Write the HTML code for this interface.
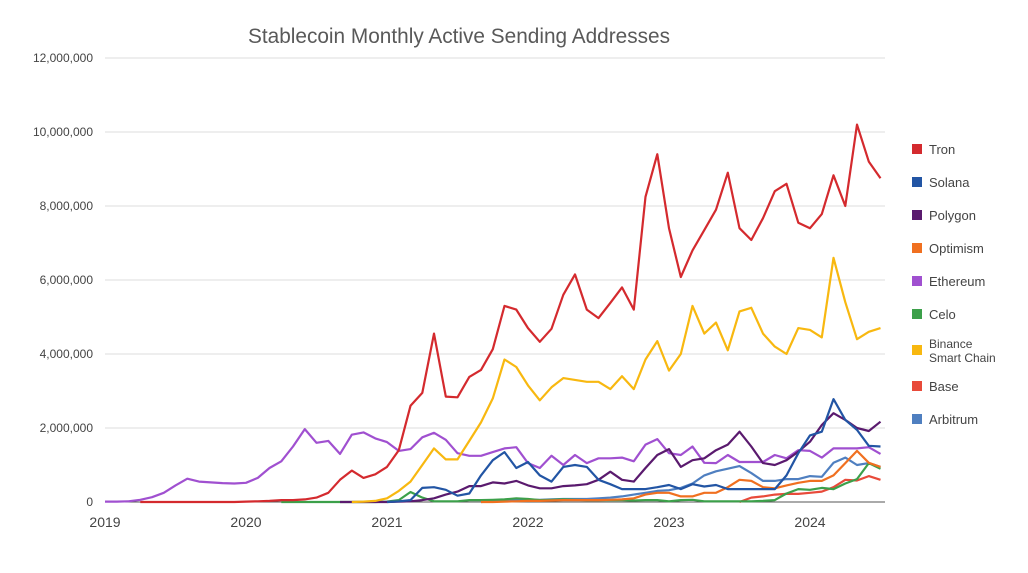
<!DOCTYPE html>
<html><head><meta charset="utf-8"><style>
body{margin:0;background:#fff;font-family:"Liberation Sans",sans-serif;}
svg text{font-family:"Liberation Sans",sans-serif;}
</style></head><body>
<svg id="chart" width="1028" height="568" viewBox="0 0 1028 568" xmlns="http://www.w3.org/2000/svg">
<rect width="1028" height="568" fill="#fff"/>
<text x="459" y="43" text-anchor="middle" font-size="20.8" fill="#595959">Stablecoin Monthly Active Sending Addresses</text>
<g id="grid"></g><g id="yticks"></g><g id="xticks"></g><g id="lines"></g><g id="legend"></g>
</svg>
<script>
const yTicks=[0,2,4,6,8,10,12];
const yTickLabels=["0","2,000,000","4,000,000","6,000,000","8,000,000","10,000,000","12,000,000"];
const xTickLabels=["2019","2020","2021","2022","2023","2024"];
const seriesNames=["Tron","Solana","Polygon","Optimism","Ethereum","Celo","Binance Smart Chain","Base","Arbitrum"];
const seriesColors=["#d42a2e","#2255a4","#5a1a6e","#f07020","#a050d0","#3ca04a","#f8b810","#e84a3a","#4f7fc0"];
// start month index (0 = Jan 2019), values in millions
const tronStart=3;
const tron=[0,0,0,0,0,0,0,0,0, 0.01,0.02,0.03,0.05,0.05,0.07,0.12,0.25,0.6,0.85,0.65,0.75,
0.95,1.4,2.6,2.95,4.55,2.85,2.83,3.38,3.57,4.13,5.3,5.2,
4.7,4.33,4.68,5.6,6.15,5.2,4.97,5.38,5.8,5.2,8.25,9.4,
7.4,6.08,6.8,7.35,7.9,8.9,7.4,7.08,7.67,8.4,8.6,7.55,
7.4,7.78,8.83,8.0,10.2,9.2,8.75];
const solanaStart=24;
const solana=[0,0.02,0.05,0.38,0.4,0.33,0.17,0.23,0.72,1.13,1.35,0.92,
1.08,0.72,0.55,0.95,1.0,0.95,0.6,0.48,0.35,0.35,0.35,0.4,
0.46,0.35,0.48,0.42,0.46,0.35,0.35,0.35,0.35,0.35,0.72,1.32,
1.8,1.9,2.78,2.22,1.95,1.52,1.5];
const polygonStart=20;
const polygon=[0,0,0,0,
0,0.01,0.02,0.05,0.1,0.2,0.28,0.43,0.43,0.53,0.5,0.57,
0.45,0.37,0.37,0.43,0.45,0.48,0.6,0.82,0.6,0.55,0.92,1.27,
1.43,0.95,1.13,1.18,1.4,1.55,1.9,1.5,1.05,1.0,1.13,1.36,
1.63,2.08,2.4,2.22,2.0,1.92,2.17];
const optimismStart=32;
const optimism=[0,0,0.01,0.02,
0.03,0.03,0.04,0.05,0.05,0.05,0.05,0.06,0.07,0.1,0.2,0.25,
0.25,0.15,0.15,0.25,0.25,0.4,0.6,0.57,0.4,0.37,0.45,0.52,
0.57,0.57,0.72,1.05,1.38,1.06,0.95];
const ethereumStart=0;
const ethereum=[0.01,0.01,0.02,0.06,0.13,0.25,0.45,0.63,0.55,0.53,0.51,0.5,
0.52,0.65,0.92,1.1,1.5,1.97,1.6,1.65,1.3,1.82,1.88,1.72,
1.62,1.38,1.43,1.75,1.87,1.68,1.32,1.25,1.25,1.35,1.45,1.48,
1.05,0.92,1.25,1.0,1.27,1.05,1.18,1.18,1.2,1.1,1.55,1.7,
1.32,1.27,1.5,1.06,1.05,1.27,1.08,1.08,1.08,1.27,1.18,1.4,
1.38,1.2,1.45,1.45,1.45,1.48,1.3];
const celoStart=15;
const celo=[0,0,0,0,0,0,0,0,0,
0.01,0.05,0.27,0.12,0.02,0.02,0.02,0.05,0.05,0.06,0.07,0.1,
0.08,0.05,0.06,0.07,0.06,0.05,0.05,0.05,0.05,0.04,0.05,0.05,
0.02,0.05,0.06,0.02,0.02,0.02,0.02,0.02,0.03,0.05,0.23,0.35,
0.33,0.38,0.35,0.5,0.62,1.05,0.9];
const binanceStart=21;
const binance=[0,0.01,0.03,
0.1,0.3,0.55,1.0,1.45,1.15,1.15,1.65,2.15,2.8,3.85,3.65,
3.15,2.75,3.1,3.35,3.3,3.25,3.25,3.05,3.4,3.05,3.85,4.35,
3.55,4.0,5.3,4.55,4.85,4.1,5.15,5.25,4.55,4.2,4.0,4.7,
4.65,4.45,6.6,5.4,4.4,4.6,4.7];
const baseStart=54;
const base=[0,0.12,0.15,0.2,0.22,0.22,0.25,0.28,0.4,0.6,0.58,0.7,0.6];
const arbitrumStart=32;
const arbitrum=[0,0.02,0.03,0.05,
0.06,0.06,0.07,0.08,0.08,0.08,0.1,0.12,0.15,0.2,0.25,0.3,
0.32,0.38,0.5,0.72,0.83,0.9,0.97,0.78,0.57,0.57,0.62,0.62,
0.7,0.68,1.06,1.2,1.0,1.05,0.95];

const NS="http://www.w3.org/2000/svg";
const X0=105,MW=11.75,Y0=502,YS=37;
function xs(m){return X0+m*MW;}
function ys(v){return Y0-v*YS;}
function mk(t,a,p){const e=document.createElementNS(NS,t);for(const k in a)e.setAttribute(k,a[k]);p.appendChild(e);return e;}
const grid=document.getElementById('grid'),yt=document.getElementById('yticks'),xt=document.getElementById('xticks'),lines=document.getElementById('lines'),leg=document.getElementById('legend');
yTicks.forEach((v,i)=>{
 if(v>0){const g=mk('line',{x1:X0,x2:885,y1:ys(v),y2:ys(v),stroke:'#dcdcdc','stroke-width':1},grid);
 
 }
 const t=mk('text',{x:93,y:ys(v)+4,'text-anchor':'end','font-size':12,fill:'#444'},yt);
 t.textContent=yTickLabels[i];
 
 
});
const ax=mk('line',{x1:X0,x2:885,y1:Y0,y2:Y0,stroke:'#555','stroke-width':1},grid);


xTickLabels.forEach((l,i)=>{
 const t=mk('text',{x:xs(i*12),y:527,'text-anchor':'middle','font-size':14,fill:'#444'},xt);
 t.textContent=l;
 
 
});
const data=[[arbitrum,arbitrumStart,8],[base,baseStart,7],[celo,celoStart,5],[optimism,optimismStart,3],[ethereum,ethereumStart,4],[polygon,polygonStart,2],[solana,solanaStart,1],[binance,binanceStart,6],[tron,tronStart,0]];
data.forEach(([vals,st,ci])=>{
 const pts=vals.map((v,i)=>xs(st+i).toFixed(1)+','+ys(v).toFixed(1)).join(' ');
 const p=mk('polyline',{points:pts,fill:'none',stroke:seriesColors[ci],'stroke-width':2.2,'stroke-linejoin':'round'},lines);
 
 
});
const legY=[149,182,215,248,281,314,344,386,419];
seriesNames.forEach((n,i)=>{
 const g=mk('g',{},leg);
 
 
 const sy=(i==6)?350:legY[i];
 mk('rect',{x:912,y:sy-5,width:10,height:10,fill:seriesColors[i]},g);
 if(i==6){
  const t1=mk('text',{x:929,y:348,'font-size':12,fill:'#444'},g);t1.textContent='Binance';
  const t2=mk('text',{x:929,y:362,'font-size':12,fill:'#444'},g);t2.textContent='Smart Chain';
 } else {
  const t=mk('text',{x:929,y:legY[i]+5,'font-size':13,fill:'#444'},g);t.textContent=n;
 }
});
</script>
</body></html>
